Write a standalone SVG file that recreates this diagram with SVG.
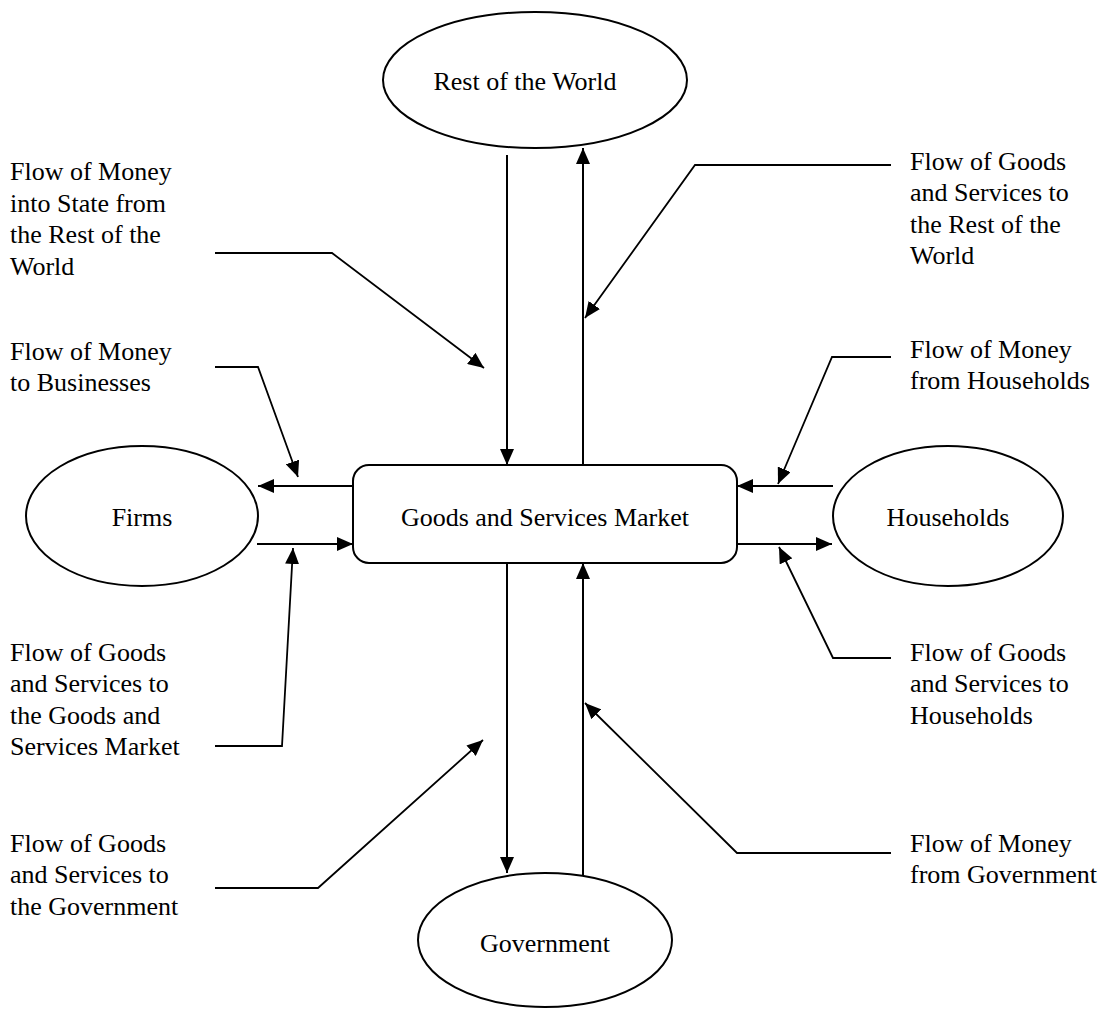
<svg xmlns="http://www.w3.org/2000/svg" width="1109" height="1009" viewBox="0 0 1109 1009">
<style>
  .node { fill: #fff; stroke: #000; stroke-width: 2; }
  .ntext { font-family: "Liberation Serif", "Times New Roman", serif; font-size: 26px; fill: #000; text-anchor: middle; }
  .label { font-family: "Liberation Serif", "Times New Roman", serif; font-size: 26px; fill: #000; }
  .flow { fill: none; stroke: #000; stroke-width: 2; marker-end: url(#ah); }
  .lead { fill: none; stroke: #000; stroke-width: 1.8; marker-end: url(#ah); }
</style>
<defs>
  <marker id="ah" markerUnits="userSpaceOnUse" markerWidth="16" markerHeight="14" refX="16" refY="7" orient="auto">
    <path d="M0,0 L16,7 L0,14 z" fill="#000"/>
  </marker>
</defs>
<rect width="1109" height="1009" fill="#fff"/>

<g id="rest-of-world">
  <ellipse class="node" cx="535" cy="80" rx="152" ry="68"/>
  <text class="ntext" x="525" y="90">Rest of the World</text>
</g>
<g id="market">
  <rect class="node" x="353" y="465" width="384" height="98" rx="16" ry="16"/>
  <text class="ntext" x="545" y="526">Goods and Services Market</text>
</g>
<g id="firms">
  <ellipse class="node" cx="142" cy="516" rx="116" ry="70"/>
  <text class="ntext" x="142" y="526">Firms</text>
</g>
<g id="households">
  <ellipse class="node" cx="948" cy="516" rx="115" ry="70"/>
  <text class="ntext" x="948" y="526">Households</text>
</g>
<g id="government">
  <ellipse class="node" cx="545" cy="940" rx="127" ry="67"/>
  <text class="ntext" x="545" y="952">Government</text>
</g>

<g id="connectors">
  <line class="flow" x1="507" y1="155" x2="507" y2="465"/>
  <line class="flow" x1="583" y1="465" x2="583" y2="148"/>
  <line class="flow" x1="353" y1="486" x2="258" y2="486"/>
  <line class="flow" x1="257" y1="544" x2="353" y2="544"/>
  <line class="flow" x1="833" y1="486" x2="737" y2="486"/>
  <line class="flow" x1="737" y1="544" x2="832" y2="544"/>
  <line class="flow" x1="507" y1="563" x2="507" y2="873"/>
  <line class="flow" x1="583" y1="875" x2="583" y2="563"/>

  <polyline class="lead" points="215,253 332,253 484,368"/>
  <polyline class="lead" points="215,367 258,367 298,477"/>
  <polyline class="lead" points="215,746 282,746 293,548"/>
  <polyline class="lead" points="215,888 318,888 483,740"/>
  <polyline class="lead" points="891,165 695,165 585,318"/>
  <polyline class="lead" points="891,357 832,357 778,484"/>
  <polyline class="lead" points="891,658 833,658 779,547"/>
  <polyline class="lead" points="891,853 737,853 585,703"/>
</g>

<g id="labels">
  <text class="label" x="10" y="180">Flow of Money</text>
  <text class="label" x="10" y="212">into State from</text>
  <text class="label" x="10" y="243">the Rest of the</text>
  <text class="label" x="10" y="275">World</text>

  <text class="label" x="10" y="360">Flow of Money</text>
  <text class="label" x="10" y="391">to Businesses</text>

  <text class="label" x="10" y="661">Flow of Goods</text>
  <text class="label" x="10" y="692">and Services to</text>
  <text class="label" x="10" y="724">the Goods and</text>
  <text class="label" x="10" y="755">Services Market</text>

  <text class="label" x="10" y="852">Flow of Goods</text>
  <text class="label" x="10" y="883">and Services to</text>
  <text class="label" x="10" y="915">the Government</text>

  <text class="label" x="910" y="170">Flow of Goods</text>
  <text class="label" x="910" y="201">and Services to</text>
  <text class="label" x="910" y="233">the Rest of the</text>
  <text class="label" x="910" y="264">World</text>

  <text class="label" x="910" y="358">Flow of Money</text>
  <text class="label" x="910" y="389">from Households</text>

  <text class="label" x="910" y="661">Flow of Goods</text>
  <text class="label" x="910" y="692">and Services to</text>
  <text class="label" x="910" y="724">Households</text>

  <text class="label" x="910" y="852">Flow of Money</text>
  <text class="label" x="910" y="883">from Government</text>
</g>
</svg>
